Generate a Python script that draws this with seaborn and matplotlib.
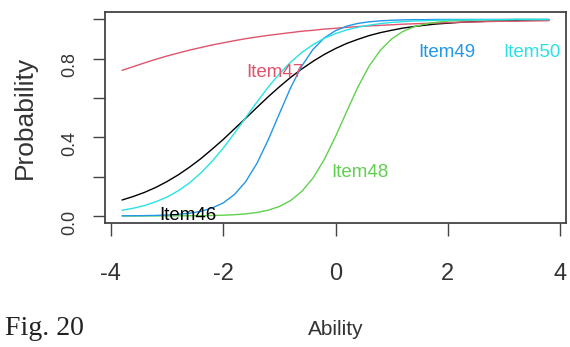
import matplotlib
matplotlib.use("Agg")
import matplotlib.pyplot as plt
import pandas as pd
import seaborn as sns

# Item characteristic curves
ability = [-3.8, -3.6, -3.4, -3.2, -3.0, -2.8, -2.6, -2.4, -2.2, -2.0,
           -1.8, -1.6, -1.4, -1.2, -1.0, -0.8, -0.6, -0.4, -0.2, 0.0,
           0.2, 0.4, 0.6, 0.8, 1.0, 1.2, 1.4, 1.6, 1.8, 2.0,
           2.2, 2.4, 2.6, 2.8, 3.0, 3.2, 3.4, 3.6, 3.8]
item46 = [0.081, 0.099, 0.120, 0.145, 0.175, 0.209, 0.248, 0.291, 0.339, 0.389,
          0.443, 0.497, 0.552, 0.606, 0.657, 0.705, 0.748, 0.787, 0.822, 0.852,
          0.878, 0.899, 0.918, 0.933, 0.945, 0.956, 0.964, 0.971, 0.977, 0.981,
          0.985, 0.988, 0.990, 0.992, 0.994, 0.995, 0.996, 0.997, 0.997]
item47 = [0.741, 0.760, 0.779, 0.797, 0.814, 0.829, 0.844, 0.857, 0.870, 0.881,
          0.892, 0.902, 0.911, 0.919, 0.926, 0.933, 0.940, 0.945, 0.951, 0.955,
          0.960, 0.964, 0.967, 0.970, 0.973, 0.976, 0.978, 0.980, 0.982, 0.984,
          0.986, 0.987, 0.988, 0.990, 0.991, 0.991, 0.992, 0.993, 0.994]
item48 = [0.0, 0.0001, 0.0001, 0.0002, 0.0003, 0.0005, 0.0008, 0.0013, 0.0022, 0.0037,
          0.0062, 0.0105, 0.0175, 0.029, 0.048, 0.078, 0.125, 0.193, 0.287, 0.404,
          0.532, 0.657, 0.763, 0.844, 0.901, 0.939, 0.963, 0.977, 0.986, 0.992,
          0.995, 0.997, 0.998, 0.999, 0.999, 1.0, 1.0, 1.0, 1.0]
item49 = [0.0005, 0.0009, 0.0015, 0.0027, 0.0046, 0.0079, 0.0135, 0.023, 0.040, 0.066,
          0.109, 0.174, 0.267, 0.386, 0.520, 0.652, 0.763, 0.848, 0.906, 0.943,
          0.966, 0.980, 0.988, 0.993, 0.996, 0.998, 0.999, 0.999, 1.0, 1.0,
          1.0, 1.0, 1.0, 1.0, 1.0, 1.0, 1.0, 1.0, 1.0]
item50 = [0.029, 0.039, 0.053, 0.072, 0.096, 0.128, 0.168, 0.218, 0.277, 0.345,
          0.421, 0.500, 0.579, 0.655, 0.723, 0.782, 0.832, 0.872, 0.904, 0.928,
          0.947, 0.961, 0.971, 0.979, 0.985, 0.989, 0.992, 0.994, 0.996, 0.997,
          0.998, 0.998, 0.999, 0.999, 0.999, 1.0, 1.0, 1.0, 1.0]
items = ["Item46", "Item47", "Item48", "Item49", "Item50"]
colors = ["#000000", "#DF536B", "#61D04F", "#2297E6", "#28E2E5"]

sns.set_theme(style="white")
plt.rcParams["font.family"] = ["Liberation Sans", "DejaVu Sans"]

curves = pd.concat(
    [pd.DataFrame({"Ability": ability, "Probability": vals, "Item": name})
     for name, vals in zip(items, [item46, item47, item48, item49, item50])],
    ignore_index=True,
)

fig = plt.figure(figsize=(5.7, 3.47), dpi=100)
ax = fig.add_axes([105 / 570, 1 - 223 / 347, 461 / 570, 211 / 347])

sns.lineplot(data=curves, x="Ability", y="Probability", hue="Item", palette=colors,
             linewidth=1.0, legend=False, errorbar=None, ax=ax)

# curve labels, placed where the original plot put them
label_pos = {"Item46": (-2.63, 0.0), "Item47": (-1.08, 0.73), "Item48": (0.44, 0.22),
             "Item49": (1.99, 0.83), "Item50": (3.5, 0.83)}
for name, col in zip(items, colors):
    lx, ly = label_pos[name]
    ax.text(lx, ly, name, color=col, fontsize=13.5, ha="center", va="center")

ax.set_xlim(-4.104, 4.104)
ax.set_ylim(-0.036, 1.038)
ax.set_xticks([-4, -2, 0, 2, 4])
ax.set_xticklabels(["-4", "-2", "0", "2", "4"])
ax.set_yticks([0.0, 0.2, 0.4, 0.6, 0.8, 1.0])
ax.set_yticklabels(["0.0", "", "0.4", "", "0.8", ""])
ax.tick_params(bottom=True, left=True)
ax.tick_params(axis="x", direction="out", length=9, width=1, color="#444444",
               labelsize=17, labelcolor="#333333", pad=20)
ax.tick_params(axis="y", direction="out", length=9, width=1, color="#444444",
               labelsize=13, labelcolor="#333333", pad=10, labelrotation=90)
for s in ax.spines.values():
    s.set_color("#444444")
    s.set_linewidth(1.3)

ax.set_xlabel("Ability", fontsize=15, color="#333333", va="top")
ax.xaxis.set_label_coords(0.5, -0.46)
ax.set_ylabel("Probability", fontsize=19, color="#333333")
ax.yaxis.set_label_coords(-0.148, 0.5)

fig.text(5 / 570, 1 - 335 / 347, "Fig. 20", fontsize=20, color="#222222",
         family=["Liberation Serif", "DejaVu Serif"], ha="left", va="baseline")

fig.savefig("out.png", dpi=100)
